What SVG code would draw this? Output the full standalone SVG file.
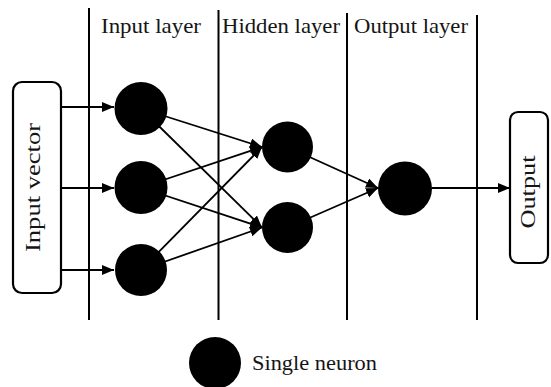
<svg xmlns="http://www.w3.org/2000/svg" width="551" height="387" viewBox="0 0 551 387">
<defs>
<style>
.lbl{font-family:"Liberation Serif","Times New Roman",serif;font-size:22px;fill:#151515}
.div{stroke:#000;stroke-width:2;fill:none}
.box{stroke:#000;stroke-width:2.2;fill:#fff}
.neuron{fill:#000}
.edge{stroke:#000;stroke-width:1.8;fill:none;marker-end:url(#arr)}
</style>
<marker id="arr" markerUnits="userSpaceOnUse" markerWidth="13" markerHeight="11" refX="12" refY="5" orient="auto">
<path d="M0,0 L12,5 L0,10 z" fill="#000"/>
</marker>
</defs>
<rect width="551" height="387" fill="#fff"/>
<g id="dividers">
<line class="div" x1="89" y1="8" x2="89" y2="320"/>
<line class="div" x1="218.5" y1="10" x2="218.5" y2="320"/>
<line class="div" x1="347" y1="13" x2="347" y2="320"/>
<line class="div" x1="477" y1="15" x2="477" y2="320"/>
</g>
<g id="headers">
<text class="lbl" x="101" y="33" textLength="100" lengthAdjust="spacingAndGlyphs">Input layer</text>
<text class="lbl" x="222" y="33" textLength="118" lengthAdjust="spacingAndGlyphs">Hidden layer</text>
<text class="lbl" x="354" y="33" textLength="114" lengthAdjust="spacingAndGlyphs">Output layer</text>
</g>
<g id="connectors">
<line class="edge" x1="61" y1="107" x2="114" y2="107"/>
<line class="edge" x1="61" y1="188" x2="114" y2="188"/>
<line class="edge" x1="61" y1="270" x2="114" y2="270"/>
<line class="edge" x1="141" y1="108.5" x2="262" y2="147"/>
<line class="edge" x1="141" y1="108.5" x2="262" y2="227.5"/>
<line class="edge" x1="141" y1="187.5" x2="262" y2="147"/>
<line class="edge" x1="141" y1="187.5" x2="262" y2="227.5"/>
<line class="edge" x1="141" y1="270" x2="262" y2="147"/>
<line class="edge" x1="141" y1="270" x2="262" y2="227.5"/>
<line class="edge" x1="287.5" y1="147" x2="378" y2="188"/>
<line class="edge" x1="287.5" y1="227.5" x2="378" y2="188"/>
<line class="edge" x1="432" y1="188" x2="510" y2="188"/>
</g>
<g id="input-vector">
<rect class="box" x="13" y="82" width="48" height="211" rx="9"/>
<text class="lbl" transform="translate(40,187.5) rotate(-90)" text-anchor="middle" textLength="129" lengthAdjust="spacingAndGlyphs">Input vector</text>
</g>
<g id="input-neuron-1"><circle class="neuron" cx="141" cy="108.5" r="26.5"/></g>
<g id="input-neuron-2"><circle class="neuron" cx="141" cy="187.5" r="26.5"/></g>
<g id="input-neuron-3"><circle class="neuron" cx="141" cy="270" r="26"/></g>
<g id="hidden-neuron-1"><circle class="neuron" cx="287.5" cy="147" r="25.5"/></g>
<g id="hidden-neuron-2"><circle class="neuron" cx="287.5" cy="227.5" r="25.5"/></g>
<g id="output-neuron"><circle class="neuron" cx="405" cy="188.5" r="27"/></g>
<g id="output">
<rect class="box" x="510" y="112" width="38" height="151" rx="8"/>
<text class="lbl" transform="translate(535,192) rotate(-90)" text-anchor="middle" textLength="73" lengthAdjust="spacingAndGlyphs">Output</text>
</g>
<g id="legend">
<circle class="neuron" cx="215" cy="363" r="26"/>
<text class="lbl" x="252" y="370" textLength="125" lengthAdjust="spacingAndGlyphs">Single neuron</text>
</g>
</svg>
